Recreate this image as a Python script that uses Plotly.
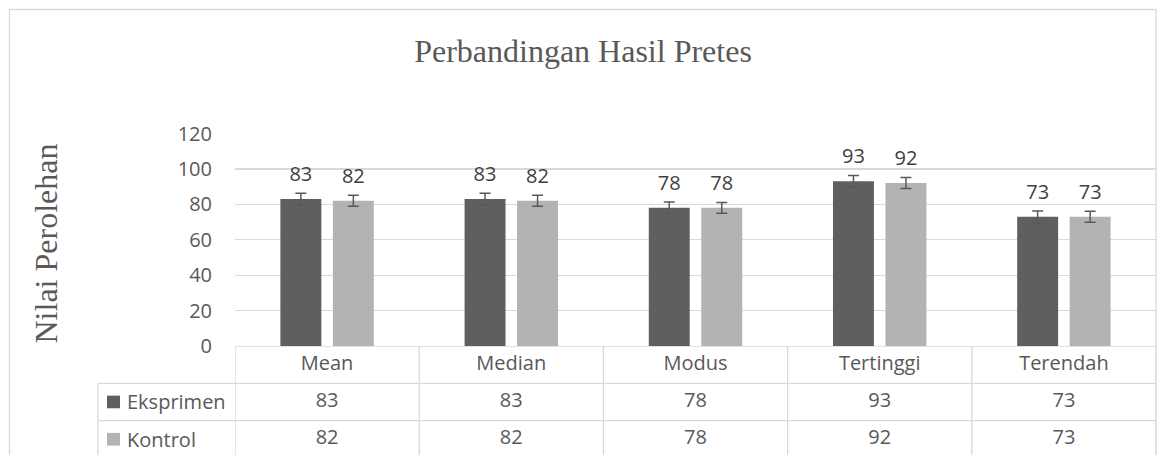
import plotly.graph_objects as go

# ---------------- data ----------------
categories = ["Mean", "Median", "Modus", "Tertinggi", "Terendah"]
series_names = ["Eksprimen", "Kontrol"]
eksprimen = [83, 83, 78, 93, 73]
kontrol = [82, 82, 78, 92, 73]
eksprimen_err = [3.3, 3.3, 3.3, 3.3, 3.3]
kontrol_err = [3.1, 3.1, 3.1, 3.1, 3.1]
y_ticks = [0, 20, 40, 60, 80, 100, 120]
title_text = "Perbandingan Hasil Pretes"
y_title = "Nilai Perolehan"

# ---------------- style ----------------
W, H = 1157, 455
C_DARK = "#5f5f5f"
C_LIGHT = "#b3b3b3"
C_TEXT = "#595959"
C_LABEL = "#404040"
C_GRID = "#d9d9d9"
SANS = "Open Sans"
SERIF = "Liberation Serif, Times New Roman, serif"


def fx(p):
    return p / W


def fy(p):
    return 1 - p / H


plot_left, plot_right = 235, 1156
main_top, main_bottom = 133.5, 346
row_h = 37.3
table_range_bottom = (H - main_bottom) / row_h

fig = go.Figure()

colors = [C_DARK, C_LIGHT]
values = [eksprimen, kontrol]
errs = [eksprimen_err, kontrol_err]

for name, vals, err, col in zip(series_names, values, errs, colors):
    fig.add_trace(go.Bar(
        x=categories, y=vals, name=name,
        marker=dict(color=col, line=dict(width=0)),
        error_y=dict(type="data", array=err, color="#595959",
                     thickness=1.5, width=5.5),
        showlegend=False, hoverinfo="skip",
    ))

for name, vals in zip(series_names, values):
    fig.add_trace(go.Scatter(
        x=categories, y=vals, mode="markers+text",
        marker=dict(size=19, opacity=0, color="white"),
        text=[str(v) for v in vals], textposition="top center",
        textfont=dict(family=SANS, size=20, color=C_LABEL),
        showlegend=False, hoverinfo="skip", cliponaxis=False,
    ))

# data table below the plot (single trace so it is not grouped)
tbl_x = categories * 3
tbl_y = [0.5] * len(categories) + [1.5] * len(categories) + [2.5] * len(categories)
tbl_text = categories + [str(v) for v in eksprimen] + [str(v) for v in kontrol]
fig.add_trace(go.Scatter(
    x=tbl_x, y=tbl_y, yaxis="y2", mode="text", text=tbl_text,
    textposition="middle center",
    textfont=dict(family=SANS, size=20, color=C_TEXT),
    showlegend=False, hoverinfo="skip", cliponaxis=False,
))

shapes = []
line = dict(color=C_GRID, width=1.3)
n = len(categories)
for i in range(n + 1):
    shapes.append(dict(type="line", xref="x", yref="y2",
                       x0=i - 0.5, x1=i - 0.5, y0=0, y1=3.2, line=line))
shapes.append(dict(type="line", xref="x", yref="y2",
                   x0=-0.5, x1=n - 0.5, y0=0, y1=0, line=line))
for r in (1, 2):
    shapes.append(dict(type="line", xref="paper", yref="y2",
                       x0=fx(98), x1=fx(plot_right), y0=r, y1=r, line=line))
shapes.append(dict(type="line", xref="paper", yref="y2",
                   x0=fx(98), x1=fx(98), y0=1, y1=3.2, line=line))
for r, col in zip((1.5, 2.5), colors):
    shapes.append(dict(type="rect", xref="paper", yref="y2",
                       x0=fx(107), x1=fx(120), y0=r - 0.17, y1=r + 0.17,
                       fillcolor=col, line=dict(width=0)))
shapes.append(dict(type="rect", xref="paper", yref="paper",
                   x0=fx(9.5), x1=fx(1156), y0=-0.2, y1=fy(9.5),
                   line=dict(color=C_GRID, width=1.3), fillcolor="rgba(0,0,0,0)"))

annotations = []
for r, name in zip((1.5, 2.5), series_names):
    annotations.append(dict(xref="paper", yref="y2", x=fx(125), y=r,
                            xanchor="left", yanchor="middle", text=name,
                            showarrow=False,
                            font=dict(family=SANS, size=20, color=C_TEXT)))
annotations.append(dict(xref="paper", yref="paper", x=fx(45), y=fy(243.5),
                        xanchor="center", yanchor="middle", text=y_title,
                        textangle=-90, showarrow=False,
                        font=dict(family=SERIF, size=32, color=C_TEXT)))

fig.update_layout(
    width=W, height=H,
    margin=dict(l=0, r=0, t=0, b=0, autoexpand=False),
    paper_bgcolor="white", plot_bgcolor="white",
    barmode="group", bargap=0.43, bargroupgap=0.22,
    scattermode="group",
    title=dict(text=title_text, x=fx(583), y=fy(51),
               xanchor="center", yanchor="middle", automargin=False,
               font=dict(family=SERIF, size=32, color=C_TEXT)),
    xaxis=dict(domain=[fx(plot_left), fx(plot_right)],
               range=[-0.5, n - 0.5], showticklabels=False, ticks="",
               showgrid=False, zeroline=False, showline=False,
               anchor="y", fixedrange=True, automargin=False),
    yaxis=dict(domain=[fy(main_bottom), fy(main_top)],
               range=[0, 120], tickvals=y_ticks,
               ticktext=[str(t) for t in y_ticks],
               showgrid=True, gridcolor=C_GRID, gridwidth=1.3,
               zeroline=False, showline=False, ticks="",
               ticklabelstandoff=22,
               tickfont=dict(family=SANS, size=20, color=C_TEXT),
               anchor="x", fixedrange=True, automargin=False),
    yaxis2=dict(domain=[0, fy(main_bottom)],
                range=[table_range_bottom, 0], visible=False,
                showgrid=False, zeroline=False, anchor="x",
                fixedrange=True, automargin=False),
    shapes=shapes,
    annotations=annotations,
)

fig.write_html(
    "out.html",
    config={"displayModeBar": False, "staticPlot": True},
    post_script="document.body.style.margin='0';document.body.style.overflow='hidden';",
)
